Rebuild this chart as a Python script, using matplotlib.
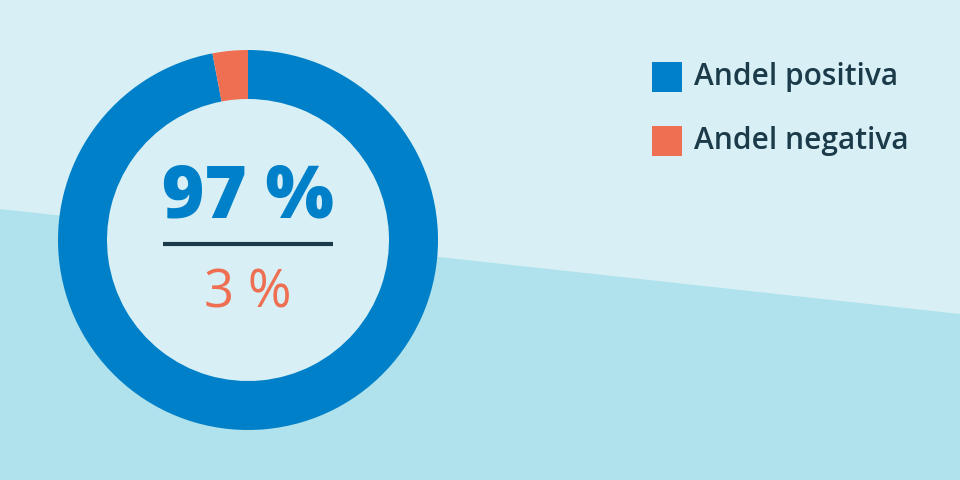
import matplotlib.pyplot as plt
from matplotlib.patches import Polygon, Circle, Rectangle

# Data
labels = ["Andel positiva", "Andel negativa"]
shares = [97, 3]
colors = ["#0080c9", "#ee6f52"]

bg_light = "#d8f0f5"
bg_dark = "#afe2ec"
dark = "#1b3a4a"

plt.rcParams["font.family"] = ["Open Sans", "DejaVu Sans"]

fig = plt.figure(figsize=(9.6, 4.8), dpi=100)
fig.patch.set_facecolor(bg_light)
ax = fig.add_axes([0, 0, 1, 1])
ax.set_facecolor(bg_light)

# darker lower band
ax.add_patch(Polygon([(0, 0), (0, 271), (960, 166), (960, 0)],
                     closed=True, facecolor=bg_dark, edgecolor="none", zorder=0))

cx, cy = 248, 240
ax.add_patch(Circle((cx, cy), 142, facecolor=bg_light, edgecolor="none", zorder=1))
wedges, _ = ax.pie(shares, colors=colors, startangle=90, counterclock=False,
                   center=(cx, cy), radius=190, frame=True,
                   wedgeprops=dict(width=49, edgecolor="none"))
for w in wedges:
    w.set_zorder(2)

# center text
ax.text(cx, 480 - 199, f"{shares[0]} %", ha="center", va="center",
        fontsize=52, fontweight="heavy", color=colors[0], zorder=3)
ax.plot([163, 333], [480 - 244, 480 - 244], color=dark, lw=3, solid_capstyle="butt", zorder=3)
ax.text(cx, 480 - 294, f"{shares[1]} %", ha="center", va="center",
        fontsize=38, color=colors[1], zorder=3)

# legend
for i, (lab, col) in enumerate(zip(labels, colors)):
    y_top = 62 + i * 64
    ax.add_patch(Rectangle((652, 480 - y_top - 30), 30, 30, facecolor=col,
                           edgecolor="none", zorder=3))
    ax.text(694, 480 - y_top - 15, lab, ha="left", va="center", fontsize=21.5,
            fontweight="semibold", color=dark, zorder=3)

ax.set_xlim(0, 960)
ax.set_ylim(0, 480)
ax.set_aspect("equal")
ax.axis("off")

fig.savefig("out.png", dpi=100, facecolor=bg_light)
